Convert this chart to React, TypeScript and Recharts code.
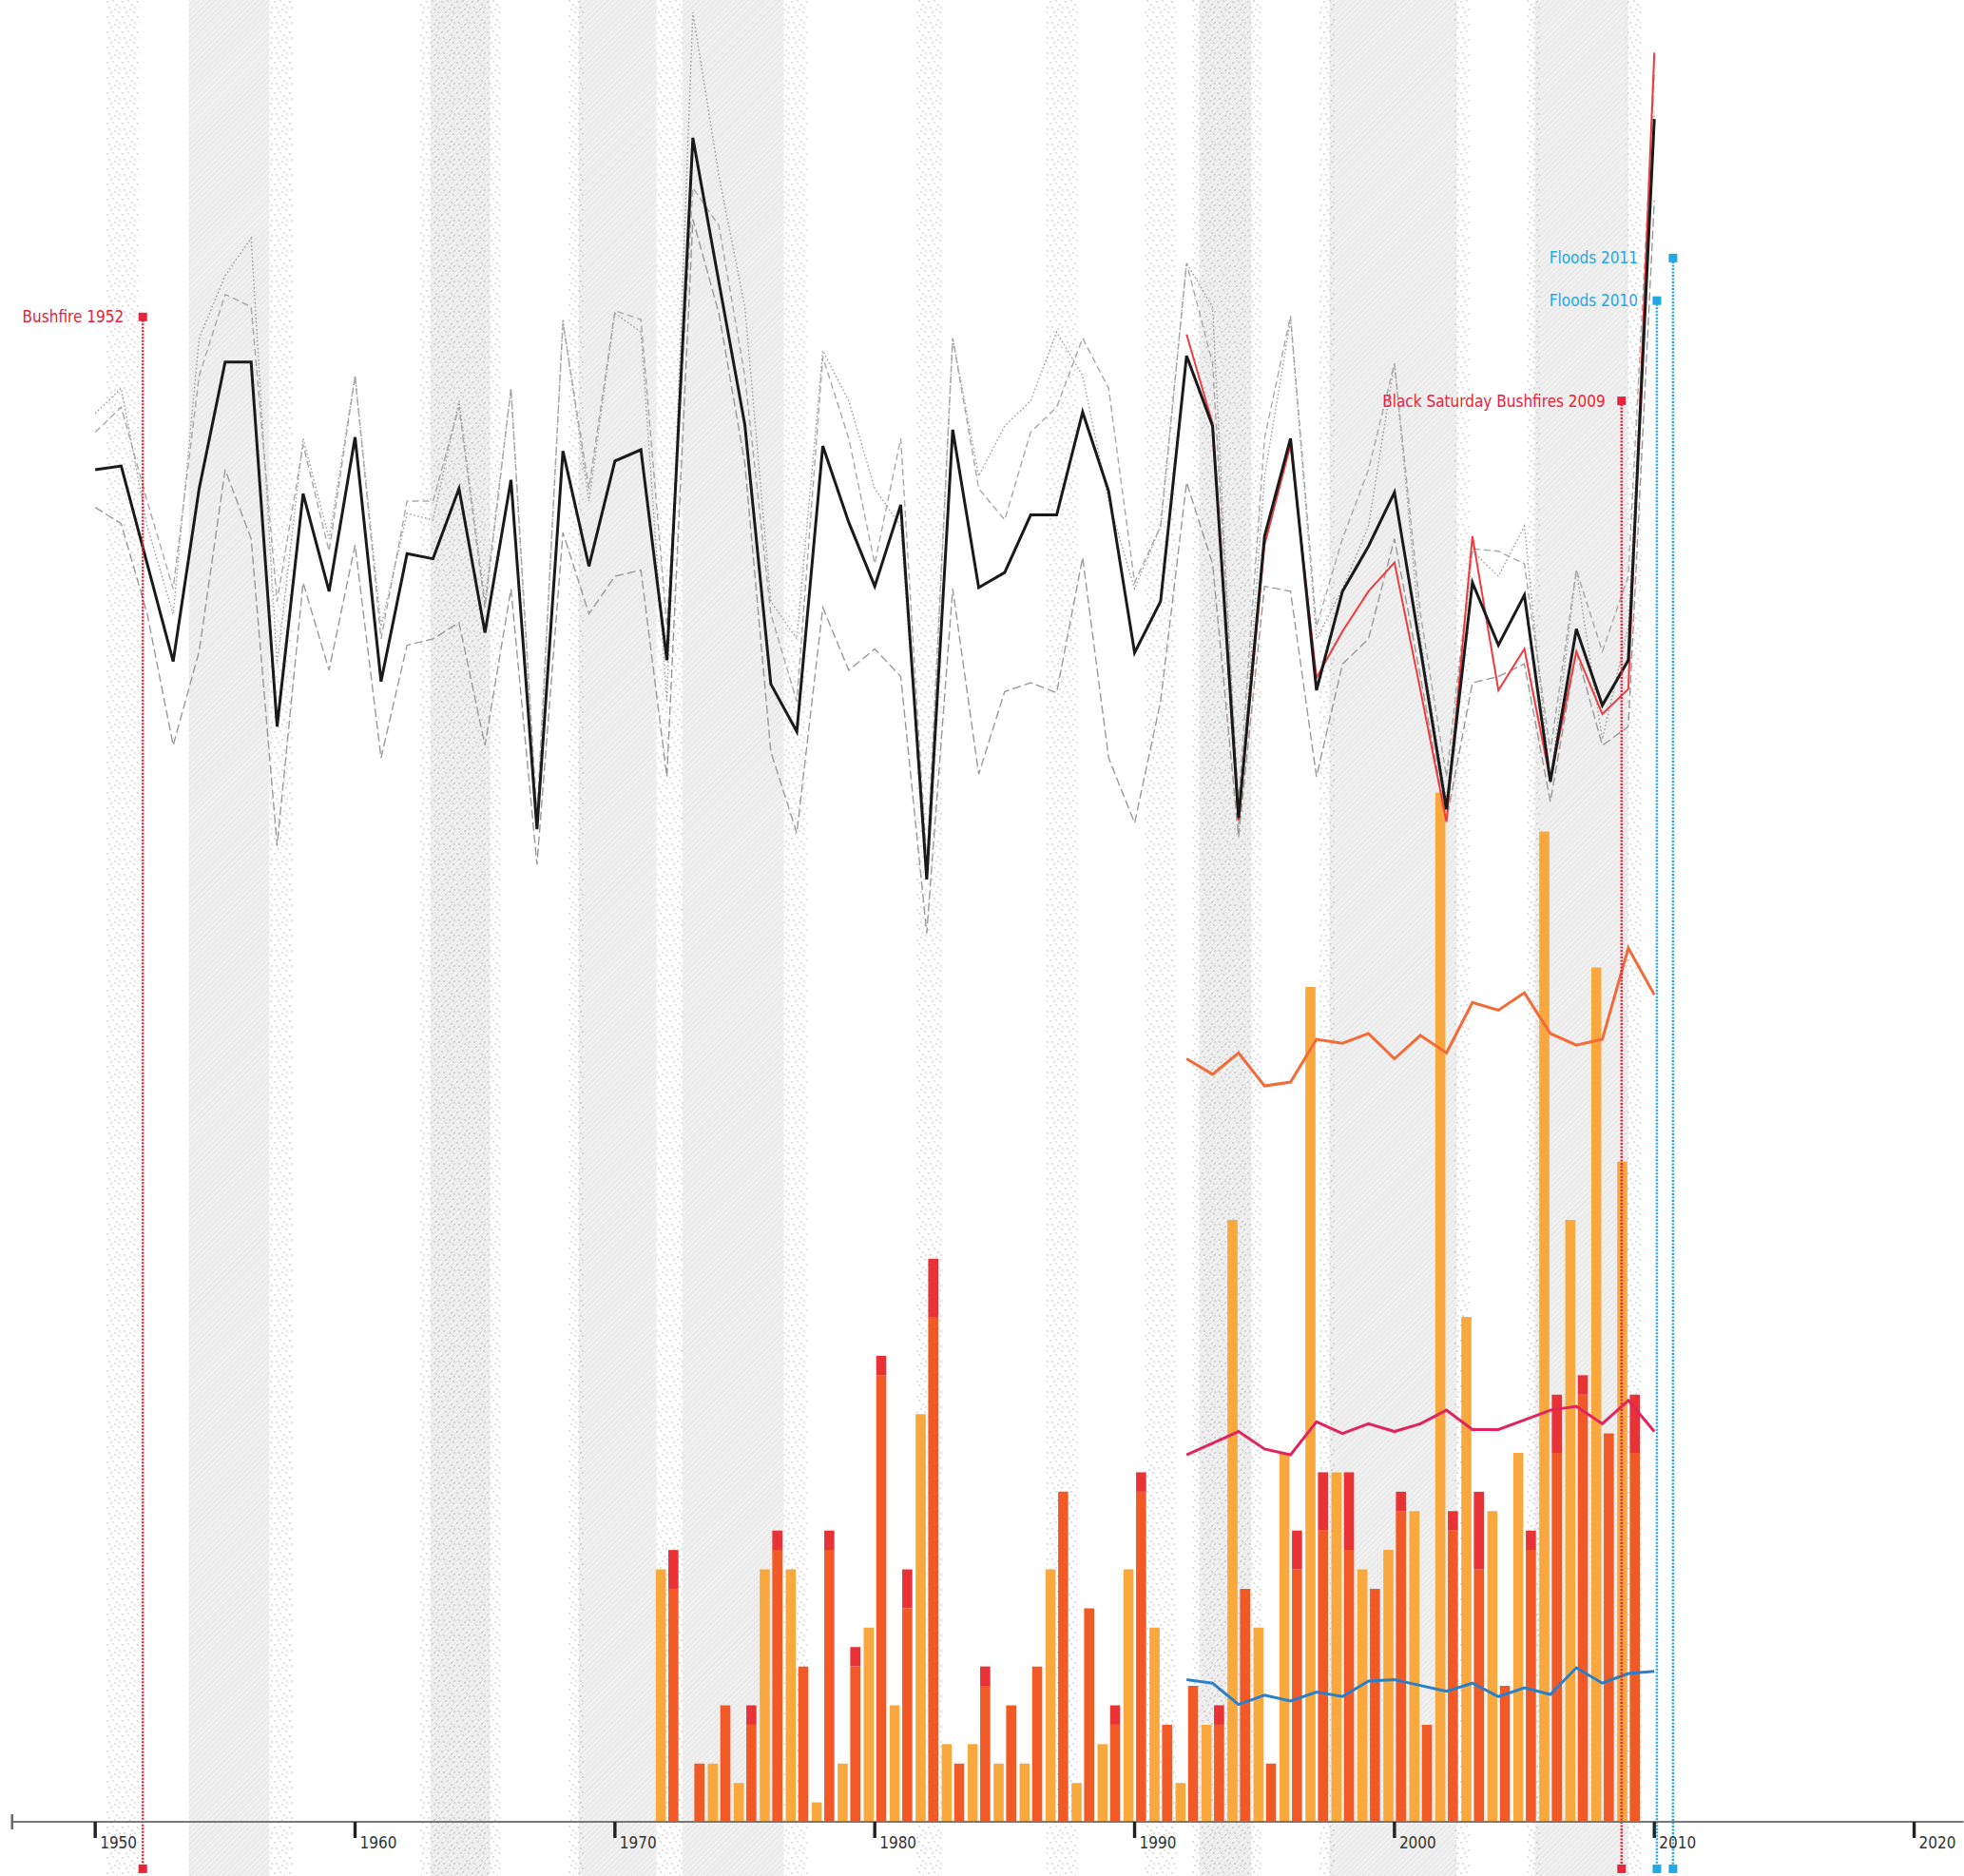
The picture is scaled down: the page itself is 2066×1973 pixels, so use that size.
import React from "react";
import {
  ComposedChart,
  Bar,
  Line,
  XAxis,
  YAxis,
  ReferenceArea,
  ReferenceLine,
  ReferenceDot,
} from "recharts";

// x axis
const years = Array.from({ length: 61 }, (_, i) => 1950 + i);
const axisStart = 1946.8;
const axisEnd = 2021.9;
const decadeTicks = [1950, 1960, 1970, 1980, 1990, 2000, 2010, 2020];

// upper panel (index units), 1950-2010
const mainIndex = [
  62.5, 62.8, 55.0, 47.2, 61.0, 71.1, 71.1, 42.0, 60.6, 52.8,
  65.1, 45.6, 55.8, 55.4, 61.0, 49.5, 61.7, 33.8, 64.0, 54.8,
  63.2, 64.1, 47.3, 89.0, 77.5, 66.1, 45.4, 41.6, 64.4, 58.3,
  53.2, 59.7, 29.8, 65.7, 53.1, 54.3, 58.9, 58.9, 67.1, 60.8,
  47.9, 52.0, 71.6, 66.0, 34.7, 57.2, 65.0, 44.9, 52.8, 56.4,
  60.7, 48.2, 35.4, 53.5, 48.5, 52.5, 37.6, 49.8, 43.7, 47.3,
  90.5,
];
const upperDotted = [
  67, 69, 58, 51, 73, 78, 81, 47, 65, 57,
  70, 50, 59, 58.5, 68, 52, 69, 34, 74.5, 60,
  75, 73.5, 44, 99, 86, 75.5, 52, 49, 72, 68,
  61, 58, 30, 73, 62, 66, 68, 73.5, 70, 60,
  53, 58, 79, 75.5, 34, 62, 74.5, 49, 53, 58,
  71, 49, 36, 56, 54, 58, 37.5, 54.5, 41, 50,
  91,
];
const upperDashed = [
  65.5, 67.5, 60.0, 53.0, 70.0, 76.5, 75.5, 52.0, 64.5, 56.0,
  70.0, 49.0, 60.0, 60.0, 67.5, 51.5, 69.0, 35.0, 74.2, 61.0,
  75.2, 74.5, 50.0, 85.0, 82.0, 70.0, 51.0, 44.0, 71.5, 65.0,
  55.0, 65.0, 31.0, 73.0, 61.0, 58.5, 65.5, 67.5, 73.0, 69.0,
  53.5, 58.0, 79.0, 71.0, 36.0, 65.0, 74.8, 50.0, 57.0, 62.5,
  71.0, 51.0, 38.0, 56.2, 56.0, 55.0, 40.0, 54.5, 48.0, 54.0,
  94.0,
];
const lowerDashed = [
  59.5, 58.2, 51.0, 40.5, 48.0, 62.5, 57.0, 32.5, 53.5, 46.5,
  56.5, 39.5, 48.5, 49.0, 50.3, 40.5, 53.0, 31.0, 57.5, 51.0,
  54.0, 54.5, 38.0, 82.5, 75.0, 63.0, 40.0, 33.5, 51.5, 46.5,
  48.2, 46.0, 25.5, 53.0, 38.2, 44.8, 45.5, 44.7, 55.5, 39.5,
  34.3, 44.0, 61.5, 55.0, 33.2, 53.2, 52.8, 38.0, 47.0, 49.0,
  57.0, 46.0, 34.5, 45.5, 46.0, 47.0, 36.0, 48.0, 40.5, 42.0,
  84.0,
];
// revised series, 1992-2010
const revisedStartYear = 1992;
const revisedIndex = [
  73.3, 66.2, 34.5, 56.5, 64.5, 45.9, 49.6, 52.8, 55.1, 44.9,
  34.4, 57.2, 44.9, 48.2, 37.7, 48.0, 43.0, 45.0, 95.8,
];

// bars (counts), 1972-2009
const barStartYear = 1972;
const orangeCounts = [
  13, 0, 3, 2, 13, 13, 1, 3, 10, 6, 21, 4, 4, 3, 3, 13, 2, 4, 13,
  10, 2, 5, 31, 10, 19, 43, 18, 13, 14, 16, 53, 26, 16, 19, 51, 31, 44, 34,
];
const redCounts = [
  12, 3, 6, 5, 14, 8, 14, 8, 23, 11, 26, 3, 7, 6, 8, 17, 11, 5, 17,
  5, 7, 5, 12, 3, 13, 15, 14, 12, 16, 5, 15, 13, 7, 14, 19, 22, 20, 19,
];
const crimsonCounts = [
  2, 0, 0, 1, 1, 0, 1, 1, 1, 2, 3, 0, 1, 0, 0, 0, 0, 1, 1,
  0, 0, 1, 0, 0, 2, 3, 4, 0, 1, 0, 1, 4, 0, 1, 3, 1, 0, 3,
];

// lower trend lines (counts), 1992-2010
const trendStartYear = 1992;
const orangeTrend = [
  39.3, 38.5, 39.6, 37.9, 38.1, 40.3, 40.1, 40.6, 39.3, 40.5,
  39.6, 42.2, 41.8, 42.7, 40.6, 40.0, 40.3, 45.0, 42.6,
];
const pinkTrend = [
  18.9, 19.5, 20.1, 19.2, 18.9, 20.6, 20.0, 20.5, 20.1, 20.5,
  21.2, 20.2, 20.2, 20.7, 21.2, 21.4, 20.5, 21.7, 20.1,
];
const blueTrend = [
  7.32, 7.14, 6.04, 6.52, 6.22, 6.68, 6.45, 7.25, 7.32, 7.02,
  6.72, 7.14, 6.45, 6.9, 6.56, 7.93, 7.14, 7.64, 7.75,
];

// events
const eventNames = ["Bushfire 1952", "Black Saturday Bushfires 2009", "Floods 2010", "Floods 2011"];
const eventYears = [1951.83, 2008.74, 2010.1, 2010.72];
const eventLevels = [74.7, 68.0, 76.0, 79.4];
const eventKinds = ["fire", "fire", "flood", "flood"];

// background periods
const hatchStart = [1953.6, 1962.9, 1968.6, 1972.6, 1992.5, 1997.5, 2005.4];
const hatchEnd = [1956.7, 1965.2, 1971.6, 1976.5, 1994.5, 2002.4, 2009.0];
const stippleStart = [1950.4, 1956.7, 1962.5, 1968.2, 1971.6, 1976.5, 1981.6, 1986.6, 1990.4, 1992.2, 1997.1, 2002.3, 2005.1, 2008.9];
const stippleEnd = [1951.7, 1957.6, 1965.6, 1968.8, 1972.6, 1977.4, 1982.6, 1987.8, 1991.6, 1994.9, 1997.7, 2002.9, 2005.6, 2009.5];

const W = 2066;
const H = 1973;
const COUNT_MAX = 93.83;
const COUNT_FLOOR = -2.8;
const INDEX_MIN = -45.42;
const INDEX_MAX = 100;
const EVENT_FOOT = -49.17;
const FONT = '"Liberation Sans Narrow", "DejaVu Sans Condensed", "Liberation Sans", sans-serif';
const FIRE = "#e8233a";
const FLOOD = "#22a8e4";
const labelGap = [20, 17, 20, 37];

const pick = (arr: number[], start: number, year: number) => {
  const i = year - start;
  return i >= 0 && i < arr.length ? arr[i] : null;
};

const data = years.map((year, i) => ({
  year,
  main: mainIndex[i],
  dotted: upperDotted[i],
  dashed: upperDashed[i],
  lower: lowerDashed[i],
  revised: pick(revisedIndex, revisedStartYear, year),
  orange: pick(orangeCounts, barStartYear, year),
  red: pick(redCounts, barStartYear, year),
  crimson: pick(crimsonCounts, barStartYear, year),
  tOrange: pick(orangeTrend, trendStartYear, year),
  tPink: pick(pinkTrend, trendStartYear, year),
  tBlue: pick(blueTrend, trendStartYear, year),
}));

const AxisTick = (props: any) => {
  const { x, y, payload } = props;
  if (payload.value === axisStart) {
    return <line x1={x} x2={x} y1={y - 8} y2={y + 8} stroke="#666" strokeWidth={2.5} />;
  }
  return (
    <g>
      <line x1={x} x2={x} y1={y} y2={y + 17} stroke="#222" strokeWidth={3.4} />
      <text x={x + 5} y={y + 28} fontSize={17} fill="#333" fontFamily={FONT}>
        {payload.value}
      </text>
    </g>
  );
};

const stippleDots = [
  [1, 2], [7, 1], [11, 5], [3, 8], [9, 10], [13, 13], [5, 13], [14, 8],
];

export default function App() {
  return (
    <div style={{ width: W, height: H, background: "#fff", fontFamily: FONT }}>
      <style>{"body{margin:0}"}</style>
      <ComposedChart
        width={W}
        height={H}
        data={data}
        margin={{ top: 0, right: 0.5, bottom: 0, left: 12.7 }}
        barGap={2.6}
      >
        <defs>
          <pattern id="hatch" width="4" height="4" patternUnits="userSpaceOnUse" patternTransform="rotate(45)">
            <rect width="4" height="4" fill="#f1f1f1" />
            <line x1="0" y1="0" x2="0" y2="4" stroke="#dcdcdc" strokeWidth="1.3" />
          </pattern>
          <pattern id="stipple" width="16" height="16" patternUnits="userSpaceOnUse">
            {stippleDots.map(([cx, cy], i) => (
              <circle key={i} cx={cx} cy={cy} r={0.65} fill="#a5a5a5" />
            ))}
          </pattern>
        </defs>

        <XAxis
          dataKey="year"
          type="number"
          domain={[axisStart, axisEnd]}
          ticks={[axisStart, ...decadeTicks]}
          interval={0}
          allowDataOverflow
          height={57}
          tickSize={0}
          tickMargin={0}
          tickLine={false}
          axisLine={{ stroke: "#777", strokeWidth: 2 }}
          tick={<AxisTick />}
        />
        <YAxis yAxisId="count" hide domain={[0, COUNT_MAX]} allowDataOverflow />
        <YAxis yAxisId="index" hide domain={[INDEX_MIN, INDEX_MAX]} allowDataOverflow />

        {hatchStart.map((s, i) => (
          <ReferenceArea
            key={`h${i}`}
            yAxisId="count"
            x1={s}
            x2={hatchEnd[i]}
            y1={COUNT_FLOOR}
            y2={COUNT_MAX}
            fill="url(#hatch)"
            fillOpacity={1}
            stroke="none"
            ifOverflow="visible"
          />
        ))}
        {stippleStart.map((s, i) => (
          <ReferenceArea
            key={`s${i}`}
            yAxisId="count"
            x1={s}
            x2={stippleEnd[i]}
            y1={COUNT_FLOOR}
            y2={COUNT_MAX}
            fill="url(#stipple)"
            fillOpacity={1}
            stroke="none"
            ifOverflow="visible"
          />
        ))}

        <Bar yAxisId="count" dataKey="orange" stackId="o" fill="#f8a83c" barSize={10.6} isAnimationActive={false} />
        <Bar yAxisId="count" dataKey="red" stackId="r" fill="#f15a27" barSize={10.6} isAnimationActive={false} />
        <Bar yAxisId="count" dataKey="crimson" stackId="r" fill="#e83236" barSize={10.6} isAnimationActive={false} />

        <Line yAxisId="count" dataKey="tOrange" stroke="#f26a35" strokeWidth={3} dot={false} activeDot={false} isAnimationActive={false} />
        <Line yAxisId="count" dataKey="tPink" stroke="#e0245e" strokeWidth={3} dot={false} activeDot={false} isAnimationActive={false} />
        <Line yAxisId="count" dataKey="tBlue" stroke="#2a7fc6" strokeWidth={3} dot={false} activeDot={false} isAnimationActive={false} />

        <Line yAxisId="index" dataKey="dotted" stroke="#9a9a9a" strokeWidth={1.4} strokeDasharray="1.5 2.5" dot={false} activeDot={false} isAnimationActive={false} />
        <Line yAxisId="index" dataKey="dashed" stroke="#a8a8a8" strokeWidth={1.4} strokeDasharray="7 4" dot={false} activeDot={false} isAnimationActive={false} />
        <Line yAxisId="index" dataKey="lower" stroke="#999" strokeWidth={1.4} strokeDasharray="9 4" dot={false} activeDot={false} isAnimationActive={false} />
        <Line yAxisId="index" dataKey="revised" stroke="#ef3b3f" strokeWidth={2} dot={false} activeDot={false} isAnimationActive={false} />
        <Line yAxisId="index" dataKey="main" stroke="#1a1a1a" strokeWidth={3} dot={false} activeDot={false} isAnimationActive={false} />

        {eventYears.map((yr, i) => {
          const color = eventKinds[i] === "fire" ? FIRE : FLOOD;
          return (
            <ReferenceLine
              key={`el${i}`}
              yAxisId="index"
              segment={[
                { x: yr, y: eventLevels[i] },
                { x: yr, y: EVENT_FOOT },
              ]}
              stroke={color}
              strokeWidth={2.5}
              strokeDasharray="2 1.5"
              ifOverflow="visible"
            />
          );
        })}
        {eventYears.map((yr, i) => {
          const color = eventKinds[i] === "fire" ? FIRE : FLOOD;
          return (
            <ReferenceDot
              key={`et${i}`}
              yAxisId="index"
              x={yr}
              y={eventLevels[i]}
              ifOverflow="visible"
              shape={(p: any) => (
                <g>
                  <rect x={p.cx - 4.5} y={p.cy - 4.5} width={9} height={9} fill={color} />
                  <text
                    x={p.cx - labelGap[i]}
                    y={p.cy}
                    textAnchor="end"
                    dominantBaseline="central"
                    fontSize={17}
                    fontFamily={FONT}
                    fill={color}
                  >
                    {eventNames[i]}
                  </text>
                </g>
              )}
            />
          );
        })}
        {eventYears.map((yr, i) => {
          const color = eventKinds[i] === "fire" ? FIRE : FLOOD;
          return (
            <ReferenceDot
              key={`eb${i}`}
              yAxisId="index"
              x={yr}
              y={EVENT_FOOT}
              ifOverflow="visible"
              shape={(p: any) => (
                <rect x={p.cx - 4.5} y={p.cy - 4.5} width={9} height={9} fill={color} />
              )}
            />
          );
        })}
      </ComposedChart>
    </div>
  );
}
